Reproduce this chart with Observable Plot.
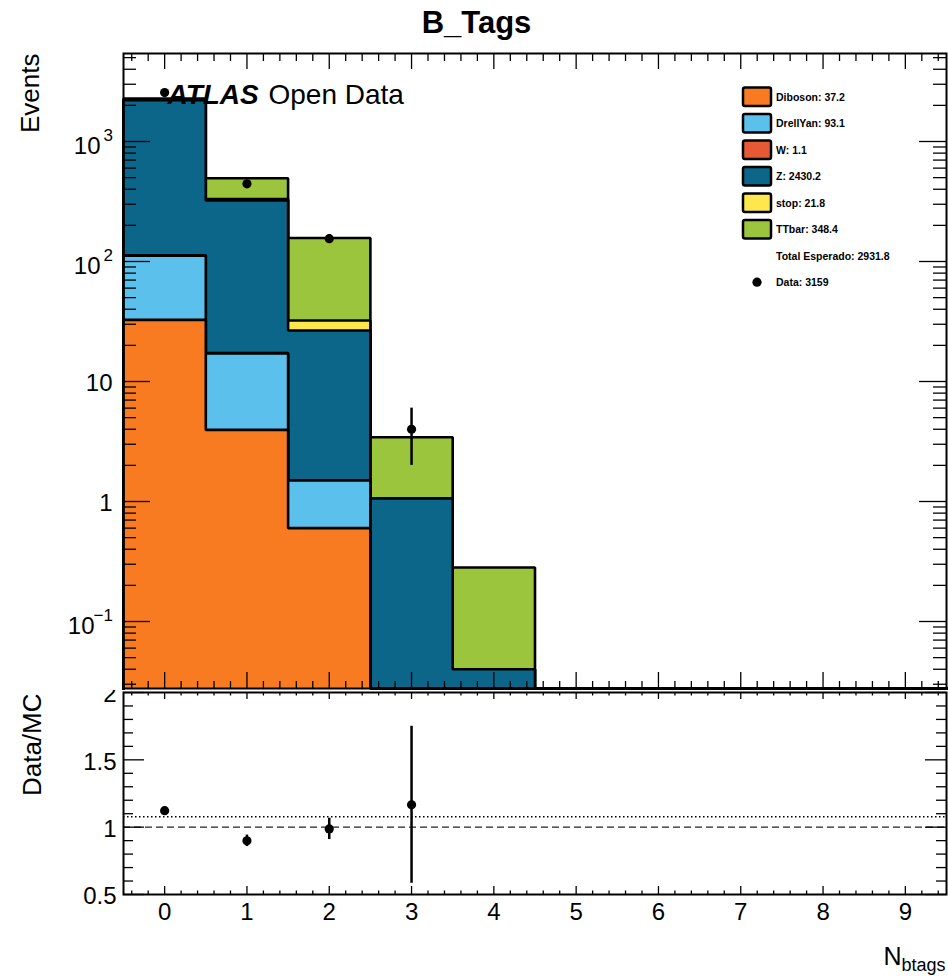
<!DOCTYPE html>
<html>
<head>
<meta charset="utf-8">
<script src="https://cdn.jsdelivr.net/npm/d3@7"></script>
<script src="https://cdn.jsdelivr.net/npm/@observablehq/plot@0.6"></script>
<style>
  html, body { margin: 0; padding: 0; background: #fff; }
  #figure { position: relative; width: 948px; height: 976px; overflow: hidden; background: #fff; }
  #figure > svg { position: absolute; left: 0; }
</style>
</head>
<body>
<div id="figure"></div>
<script>
// ---- data: number of b-tagged jets per event ----
const nbtags = [0, 1, 2, 3, 4, 5, 6, 7, 8, 9];
const sampleNames  = ["Diboson", "DrellYan", "W", "Z", "stop", "TTbar"];
const sampleColors = ["#F97B21", "#5BC0EB", "#E55934", "#0B668A", "#FDE74C", "#9BC53D"];
const diboson   = [32.65, 3.95, 0.6, 0, 0, 0, 0, 0, 0, 0];
const drellYan  = [79.0, 13.2, 0.9, 0, 0, 0, 0, 0, 0, 0];
const wjets     = [1.0, 0.1, 0, 0, 0, 0, 0, 0, 0, 0];
const zjets     = [2099.0, 305.0, 25.1, 1.06, 0.04, 0, 0, 0, 0, 0];
const singleTop = [6.2, 10.0, 5.6, 0, 0, 0, 0, 0, 0, 0];
const ttbar     = [59.24, 161.75, 124.8, 2.37, 0.242, 0, 0, 0, 0, 0];
const observed  = [2556, 444, 155, 4, 0, 0, 0, 0, 0, 0];

// ---- axis tick labels ----
const xTickLabels = ["0", "1", "2", "3", "4", "5", "6", "7", "8", "9"];
const eventTickLabels = [
  {value: 0.1,  base: "10", exp: "\u22121"},
  {value: 1,    base: "1",  exp: ""},
  {value: 10,   base: "10", exp: ""},
  {value: 100,  base: "10", exp: "2"},
  {value: 1000, base: "10", exp: "3"}
];
const ratioTickValues = [0.5, 1, 1.5, 2];
const ratioTickLabels = ["0.5", "1", "1.5", "2"];

const FONT = "'Liberation Sans', Arial, Helvetica, sans-serif";
const W = 948;
const FRAME_L = 123, FRAME_R = 946;
const MAIN_TOP = 53, MAIN_BOTTOM = 688, MAIN_H = 690;
const RATIO_TOP = 688, RATIO_H = 976 - 688;
const Y_MIN = 0.02765, Y_MAX = 5412;
const frameW = FRAME_R - FRAME_L;
const mainFrameH = MAIN_BOTTOM - MAIN_TOP;
const ratioFrameH = (RATIO_H - 82) - 4;

// ---- stacked expectation ----
const series = [diboson, drellYan, wjets, zjets, singleTop, ttbar];
const cumulative = series.map((_, k) =>
  nbtags.map((_, i) => d3.sum(series.slice(0, k + 1), s => s[i])));
const mcTotal = cumulative[series.length - 1];
const sampleTotals = series.map(s => d3.sum(s));
const expectedTotal = d3.sum(sampleTotals);
const observedTotal = d3.sum(observed);

const clampY = v => Math.min(Math.max(v, Y_MIN), Y_MAX);
function outline(c) {
  const pts = [{x: -0.5, y: Y_MIN}];
  nbtags.forEach((b, i) => {
    pts.push({x: b - 0.5, y: clampY(c[i])}, {x: b + 0.5, y: clampY(c[i])});
  });
  pts.push({x: 9.5, y: Y_MIN});
  return pts;
}

// each cumulative histogram is filled from the axis floor, largest first
const stackMarks = [];
for (let k = series.length - 1; k >= 0; --k) {
  const pts = outline(cumulative[k]);
  stackMarks.push(Plot.area(pts, {x1: "x", y1: () => Y_MIN, y2: "y", fill: sampleColors[k], curve: "linear"}));
  stackMarks.push(Plot.line(pts, {x: "x", y: "y", stroke: "black", strokeWidth: 2.6, strokeLinejoin: "miter", strokeLinecap: "square"}));
}

const dataBins = nbtags.filter(i => observed[i] > 0);

// tick positions
const xMajor = nbtags;
const xMinor = d3.range(-0.4, 9.5, 0.2).filter(v => Math.abs(v - Math.round(v)) > 0.05);
const logMajor = eventTickLabels.map(d => d.value);
const logMinor = d3.range(-2, 4).flatMap(e => d3.range(2, 10).map(m => m * Math.pow(10, e)))
  .filter(v => v > Y_MIN && v < Y_MAX);
const ratioMinor = d3.range(0.6, 2.0, 0.1).filter(v => Math.abs(v * 2 - Math.round(v * 2)) > 0.05);

const tickStyle = {stroke: "black", strokeWidth: 1.3};
function yTicks(values, len, fh) {
  return [
    Plot.tickY(values, {y: d => d, insetRight: frameW - len, ...tickStyle}),
    Plot.tickY(values, {y: d => d, insetLeft: frameW - len, ...tickStyle})
  ];
}
function xTicks(values, lenBottom, lenTop, fh) {
  return [
    Plot.tickX(values, {x: d => d, insetTop: fh - lenBottom, ...tickStyle}),
    Plot.tickX(values, {x: d => d, insetBottom: fh - lenTop, ...tickStyle})
  ];
}

// ---- main panel ----
const main = Plot.plot({
  width: W, height: MAIN_H,
  marginLeft: FRAME_L, marginRight: W - FRAME_R, marginTop: MAIN_TOP, marginBottom: MAIN_H - MAIN_BOTTOM,
  x: {domain: [-0.5, 9.5], axis: null},
  y: {type: "log", domain: [Y_MIN, Y_MAX], axis: null},
  style: {background: "white", fontFamily: FONT, color: "black"},
  marks: [
    ...stackMarks,
    Plot.ruleX(dataBins, {x: i => i, y1: i => clampY(observed[i] - Math.sqrt(observed[i])), y2: i => clampY(observed[i] + Math.sqrt(observed[i])), stroke: "black", strokeWidth: 2.5}),
    Plot.dot(dataBins, {x: i => i, y: i => observed[i], r: 4.6, fill: "black", stroke: null}),
    ...yTicks(logMajor, 27),
    ...yTicks(logMinor, 13),
    ...xTicks(xMajor, 16, 16, mainFrameH),
    ...xTicks(xMinor, 7, 8, mainFrameH),
    // y tick labels: mantissa and exponent
    Plot.text(eventTickLabels.filter(d => !d.exp), {y: "value", text: "base", frameAnchor: "left", textAnchor: "end", lineAnchor: "middle", dx: -11, dy: 2, fontSize: 24}),
    Plot.text(eventTickLabels.filter(d => d.exp.length === 1), {y: "value", text: "base", frameAnchor: "left", textAnchor: "end", lineAnchor: "bottom", dx: -23, dy: 12, fontSize: 24}),
    Plot.text(eventTickLabels.filter(d => d.exp.length > 1), {y: "value", text: "base", frameAnchor: "left", textAnchor: "end", lineAnchor: "bottom", dx: -29, dy: 12, fontSize: 24}),
    Plot.text(eventTickLabels.filter(d => d.exp), {y: "value", text: "exp", frameAnchor: "left", textAnchor: "end", lineAnchor: "bottom", dx: -10.5, dy: -1, fontSize: 17}),
    Plot.text(["Events"], {frameAnchor: "top-left", rotate: -90, textAnchor: "end", lineAnchor: "bottom", dx: 38 - FRAME_L, dy: 0, fontSize: 26}),
    Plot.text(["ATLAS"], {frameAnchor: "top-left", textAnchor: "start", lineAnchor: "bottom", dx: 44, dy: 50, fontSize: 28, fontWeight: "bold", fontStyle: "italic"}),
    Plot.text(["Open Data"], {frameAnchor: "top-left", textAnchor: "start", lineAnchor: "bottom", dx: 145, dy: 50, fontSize: 28}),
    Plot.frame({stroke: "black", strokeWidth: 2})
  ]
});

// ---- ratio panel ----
const ratioPts = nbtags.filter(i => observed[i] > 0 && mcTotal[i] > 0).map(i => ({
  x: i, r: observed[i] / mcTotal[i], e: Math.sqrt(observed[i]) / mcTotal[i]
}));
const globalRatio = observedTotal / expectedTotal;

const ratio = Plot.plot({
  width: W, height: RATIO_H,
  marginLeft: FRAME_L, marginRight: W - FRAME_R, marginTop: 4, marginBottom: 82,
  x: {domain: [-0.5, 9.5], axis: null},
  y: {domain: [0.5, 2], axis: null},
  style: {background: "white", fontFamily: FONT, color: "black", overflow: "visible"},
  marks: [
    Plot.ruleY([globalRatio], {stroke: "black", strokeWidth: 1.5, strokeDasharray: "1.5,2.5"}),
    Plot.ruleY([1], {stroke: "#222", strokeWidth: 1.2, strokeDasharray: "7,4"}),
    Plot.ruleX(ratioPts, {x: "x", y1: d => Math.max(0.5, d.r - d.e), y2: d => Math.min(2, d.r + d.e), stroke: "black", strokeWidth: 2.5}),
    Plot.dot(ratioPts, {x: "x", y: "r", r: 4.6, fill: "black", stroke: null}),
    ...yTicks(ratioTickValues, 21),
    ...yTicks(ratioMinor, 10),
    ...xTicks(xMajor, 8, 7, ratioFrameH),
    ...xTicks(xMinor, 3.5, 3.5, ratioFrameH),
    Plot.text(ratioTickValues, {y: d => d, text: (d, i) => ratioTickLabels[i], frameAnchor: "left", textAnchor: "end", lineAnchor: "middle", dx: -7, dy: 2, fontSize: 24}),
    Plot.text(xMajor, {x: d => d, text: (d, i) => xTickLabels[i], frameAnchor: "bottom", textAnchor: "middle", lineAnchor: "top", dy: 8, fontSize: 24}),
    Plot.text(["Data/MC"], {frameAnchor: "top-left", rotate: -90, textAnchor: "end", lineAnchor: "bottom", dx: 40 - FRAME_L, dy: 1, fontSize: 26}),
    Plot.text(["N"], {frameAnchor: "bottom-right", textAnchor: "end", lineAnchor: "bottom", dx: -45, dy: 70, fontSize: 25}),
    Plot.text(["btags"], {frameAnchor: "bottom-right", textAnchor: "end", lineAnchor: "bottom", dx: -1, dy: 76, fontSize: 18}),
    Plot.frame({stroke: "black", strokeWidth: 2})
  ]
});

const fig = document.getElementById("figure");
ratio.style.top = RATIO_TOP + "px";
main.style.top = "0px";
fig.appendChild(ratio);
fig.appendChild(main);

// ---- title and legend ----
const over = d3.select(fig).append("svg")
  .attr("width", W).attr("height", MAIN_H)
  .style("top", "0px")
  .style("pointer-events", "none")
  .style("font-family", FONT);

over.append("text")
  .attr("x", 476.5).attr("y", 33.3)
  .attr("text-anchor", "middle")
  .attr("font-weight", "bold").attr("font-size", 31)
  .text("B_Tags");

const legendRows = sampleNames.map((name, k) => ({
  kind: "box", color: sampleColors[k], label: `${name}: ${sampleTotals[k].toFixed(1)}`
})).concat([
  {kind: "none", label: `Total Esperado: ${expectedTotal.toFixed(1)}`},
  {kind: "dot", label: `Data: ${observedTotal}`}
]);

const rowY = k => 96.7 + 26.5 * k;
const lg = over.append("g");
legendRows.forEach((d, k) => {
  const cy = rowY(k);
  if (d.kind === "box") {
    lg.append("rect")
      .attr("x", 743).attr("y", cy - 9.3).attr("width", 28).attr("height", 18.6)
      .attr("rx", 2).attr("fill", d.color)
      .attr("stroke", "black").attr("stroke-width", 2.5);
  } else if (d.kind === "dot") {
    lg.append("circle").attr("cx", 757).attr("cy", cy).attr("r", 4.6).attr("fill", "black");
  }
  lg.append("text")
    .attr("x", 776).attr("y", cy + 3.8)
    .attr("font-weight", "bold").attr("font-size", 10.5)
    .text(d.label);
});
</script>
</body>
</html>
